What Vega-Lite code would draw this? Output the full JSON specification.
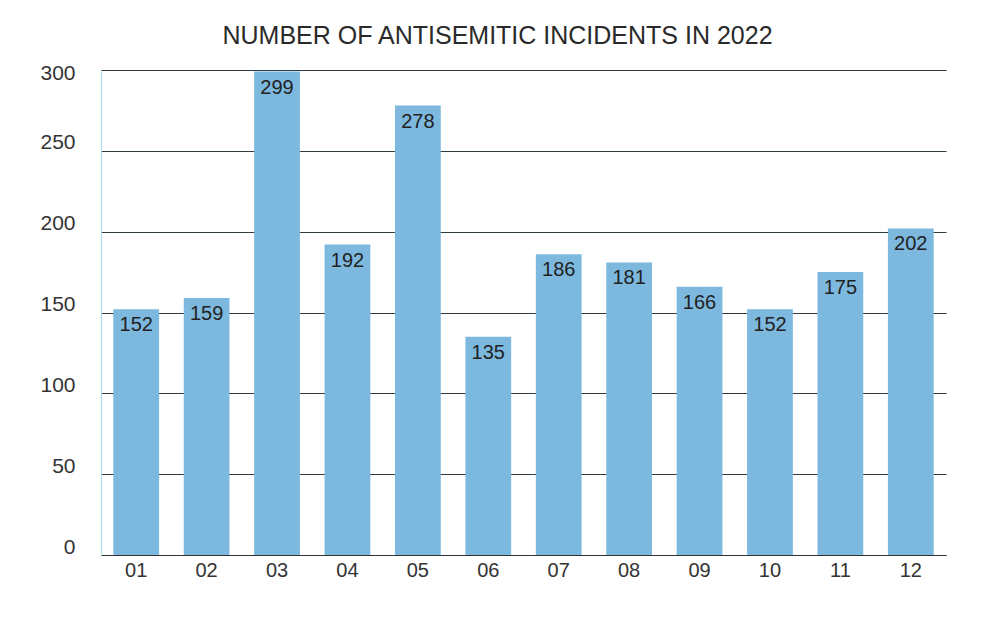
{
  "$schema": "https://vega.github.io/schema/vega-lite/v6.json",
  "width": 845,
  "height": 485,
  "autosize": {"type": "none"},
  "padding": {"left": 101, "top": 70, "right": 44, "bottom": 63},
  "background": "#ffffff",
  "title": {
    "text": "NUMBER OF ANTISEMITIC INCIDENTS IN 2022",
    "anchor": "middle",
    "dx": -26,
    "offset": 13,
    "font": "Liberation Sans",
    "fontSize": 25,
    "fontWeight": "normal",
    "color": "#2a2a2a"
  },
  "data": {
    "values": [
      {"month": "01", "incidents": 152},
      {"month": "02", "incidents": 159},
      {"month": "03", "incidents": 299},
      {"month": "04", "incidents": 192},
      {"month": "05", "incidents": 278},
      {"month": "06", "incidents": 135},
      {"month": "07", "incidents": 186},
      {"month": "08", "incidents": 181},
      {"month": "09", "incidents": 166},
      {"month": "10", "incidents": 152},
      {"month": "11", "incidents": 175},
      {"month": "12", "incidents": 202}
    ]
  },
  "encoding": {
    "x": {
      "field": "month",
      "type": "ordinal",
      "sort": null,
      "scale": {"paddingInner": 0.35, "paddingOuter": 0.175},
      "axis": {
        "title": null,
        "labelAngle": 0,
        "ticks": false,
        "domainColor": "#333333",
        "domainWidth": 1,
        "labelPadding": 5,
        "labelFont": "Liberation Sans",
        "labelFontSize": 20,
        "labelColor": "#333333"
      }
    },
    "y": {
      "field": "incidents",
      "type": "quantitative",
      "scale": {"domain": [0, 300], "nice": false},
      "axis": {
        "title": null,
        "values": [0, 50, 100, 150, 200, 250, 300],
        "ticks": false,
        "domainColor": "#a6dcec",
        "domainWidth": 1,
        "grid": true,
        "gridColor": "#2e3b42",
        "gridWidth": 1,
        "labelPadding": 26,
        "labelBaseline": "alphabetic",
        "labelOffset": {"condition": {"test": "datum.value == 300", "value": 9}, "value": -2},
        "labelFont": "Liberation Sans",
        "labelFontSize": 21,
        "labelColor": "#333333"
      }
    }
  },
  "layer": [
    {"mark": {"type": "bar", "color": "#7db8de"}},
    {
      "mark": {
        "type": "text",
        "baseline": "top",
        "dy": 6,
        "font": "Liberation Sans",
        "fontSize": 20,
        "color": "#222222"
      },
      "encoding": {"text": {"field": "incidents", "type": "quantitative"}}
    }
  ],
  "config": {"view": {"stroke": null}}
}
